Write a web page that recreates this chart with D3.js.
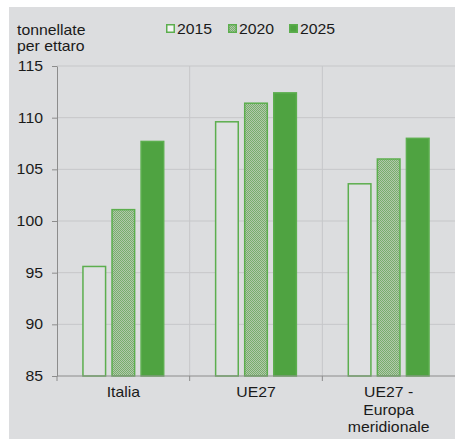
<!DOCTYPE html>
<html>
<head>
<meta charset="utf-8">
<script src="https://cdn.jsdelivr.net/npm/d3@7"></script>
<style>
    body { margin: 0; background: #ffffff; }
    text { font-family: "Liberation Sans", Arial, sans-serif; fill: #1a1a1a; }
</style>
</head>
<body>
<div id="chart"></div>
<script>
const categories = ["Italia", "UE27", "UE27 - Europa meridionale"];
const categoryLines = [["Italia"], ["UE27"], ["UE27 -", "Europa", "meridionale"]];
const years = ["2015", "2020", "2025"];
const values2015 = [95.6, 109.6, 103.6];
const values2020 = [101.1, 111.4, 106.0];
const values2025 = [107.7, 112.4, 108.0];
const yTicks = [85, 90, 95, 100, 105, 110, 115];

const width = 455;
const height = 439;
const margin = { top: 66, right: 0, bottom: 63, left: 57 };
const stretch = 1.13; // testo leggermente allargato come nell'originale

const green = "#4fa341";
const edge = "#5cae4e";

const svg = d3.select("#chart")
    .append("svg")
    .attr("width", width)
    .attr("height", height);

// pattern a scacchi per il 2020
const defs = svg.append("defs");
const pat = defs.append("pattern")
    .attr("id", "check")
    .attr("width", 2)
    .attr("height", 2)
    .attr("patternUnits", "userSpaceOnUse");
pat.append("rect").attr("width", 2).attr("height", 2).attr("fill", "#b2c8ac");
pat.append("rect").attr("width", 1).attr("height", 1).attr("fill", "#78ae6d");
pat.append("rect").attr("x", 1).attr("y", 1).attr("width", 1).attr("height", 1).attr("fill", "#78ae6d");

// pannello grigio
svg.append("rect")
    .attr("x", 9)
    .attr("y", 7)
    .attr("width", width - 9)
    .attr("height", height - 7)
    .attr("fill", "#dcdddf");

const x0 = d3.scaleBand()
    .domain(categories)
    .range([margin.left, width - margin.right])
    .padding(0);

const x1 = d3.scaleBand()
    .domain(years)
    .range([x0.bandwidth() * 0.19, x0.bandwidth() * 0.81])
    .paddingInner(0.17)
    .paddingOuter(0);

const y = d3.scaleLinear()
    .domain([85, 115])
    .range([height - margin.bottom, margin.top]);

// griglia
svg.append("g")
    .selectAll("line")
    .data(yTicks.slice(1))
    .enter().append("line")
    .attr("x1", margin.left)
    .attr("x2", width - margin.right)
    .attr("y1", d => y(d))
    .attr("y2", d => y(d))
    .attr("stroke", "#c6c7c9")
    .attr("stroke-width", 1);

svg.append("g")
    .selectAll("line")
    .data(categories.slice(1))
    .enter().append("line")
    .attr("x1", d => x0(d))
    .attr("x2", d => x0(d))
    .attr("y1", y(115))
    .attr("y2", y(85))
    .attr("stroke", "#c6c7c9")
    .attr("stroke-width", 1);

const series = [
    { year: "2015", values: values2015, fill: "#dfe0e2" },
    { year: "2020", values: values2020, fill: "url(#check)" },
    { year: "2025", values: values2025, fill: green }
];

const bars = [];
series.forEach(s => {
    s.values.forEach((v, i) => bars.push({ cat: categories[i], year: s.year, value: v, fill: s.fill }));
});

svg.append("g")
    .selectAll("rect")
    .data(bars)
    .enter().append("rect")
    .attr("x", d => x0(d.cat) + x1(d.year) + 0.75)
    .attr("y", d => y(d.value))
    .attr("width", x1.bandwidth() - 1.5)
    .attr("height", d => y(85) - y(d.value))
    .attr("fill", d => d.fill)
    .attr("stroke", edge)
    .attr("stroke-width", 1.5);

// asse y
const yAxis = svg.append("g")
    .attr("transform", `translate(${margin.left},0)`)
    .call(d3.axisLeft(y).tickValues(yTicks).tickSize(5).tickSizeOuter(0).tickPadding(14));
yAxis.select(".domain").attr("stroke", "#8c8c8c");
yAxis.selectAll(".tick line").attr("stroke", "#8c8c8c");
yAxis.selectAll(".tick text")
    .style("font-size", "14px")
    .attr("x", -14 / stretch)
    .attr("transform", `scale(${stretch},1)`);

// asse x
svg.append("line")
    .attr("x1", margin.left)
    .attr("x2", width - margin.right)
    .attr("y1", y(85))
    .attr("y2", y(85))
    .attr("stroke", "#8c8c8c");

svg.append("g")
    .selectAll("line")
    .data(categories)
    .enter().append("line")
    .attr("x1", d => x0(d))
    .attr("x2", d => x0(d))
    .attr("y1", y(85))
    .attr("y2", y(85) + 5)
    .attr("stroke", "#8c8c8c");

categories.forEach((c, i) => {
    const cx = x0(c) + x0.bandwidth() / 2;
    categoryLines[i].forEach((line, j) => {
        svg.append("text")
            .attr("transform", `translate(${cx},${y(85) + 21 + j * 17.5}) scale(${stretch},1)`)
            .style("text-anchor", "middle")
            .style("font-size", "14px")
            .text(line);
    });
});

// titolo asse y
["tonnellate", "per ettaro"].forEach((t, i) => {
    svg.append("text")
        .attr("transform", `translate(17,${35 + i * 15.5}) scale(${stretch},1)`)
        .style("font-size", "14px")
        .text(t);
});

// legenda
const legendX = [166, 228, 289];
series.forEach((s, i) => {
    svg.append("rect")
        .attr("x", legendX[i] + 0.75)
        .attr("y", 24.75)
        .attr("width", 7.5)
        .attr("height", 7.5)
        .attr("fill", i === 0 ? "#f4f4f4" : s.fill)
        .attr("stroke", edge)
        .attr("stroke-width", 1.5);
    svg.append("text")
        .attr("transform", `translate(${legendX[i] + 11},33.5) scale(${stretch},1)`)
        .style("font-size", "14px")
        .text(s.year);
});
</script>
</body>
</html>
